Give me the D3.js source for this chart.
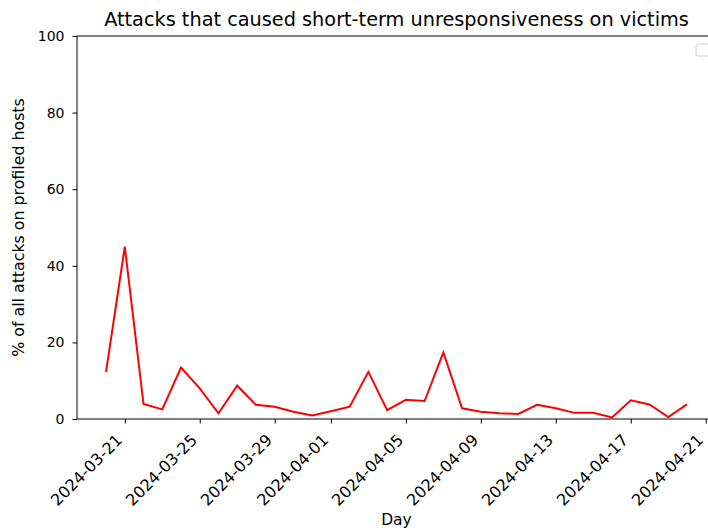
<!DOCTYPE html>
<html>
<head>
<meta charset="utf-8">
<script src="https://d3js.org/d3.v7.min.js"></script>
<style>
body { margin: 0; background: #fff; }
svg { display: block; font-family: "DejaVu Sans", sans-serif; }
.axis path, .axis line { stroke: #000; stroke-width: 1; }
.axis text { font-family: "DejaVu Sans", sans-serif; font-size: 14px; fill: #000; }
.x-axis text { font-size: 16px; }
</style>
</head>
<body>
<svg id="chart" width="708" height="531"></svg>
<script>
// daily share of attacks (%), 2024-03-20 .. 2024-04-20
var startDay = "2024-03-20";
var pctValues = [12.3, 45.0, 3.9, 2.5, 13.4, 8.0, 1.5, 8.7, 3.7, 3.2, 1.9, 0.9,
  2.0, 3.2, 12.3, 2.3, 5.0, 4.7, 17.4, 2.8, 1.9, 1.5, 1.3, 3.7,
  2.8, 1.6, 1.6, 0.4, 4.9, 3.8, 0.5, 3.8];
var tickDays = ["2024-03-21", "2024-03-25", "2024-03-29", "2024-04-01", "2024-04-05",
  "2024-04-09", "2024-04-13", "2024-04-17", "2024-04-21"];
var yTicks = [0, 20, 40, 60, 80, 100];

var parseDay = d3.utcParse("%Y-%m-%d"),
    fmtDay = d3.utcFormat("%Y-%m-%d");

var t0 = parseDay(startDay);
var data = pctValues.map((v, i) => ({ date: d3.utcDay.offset(t0, i), value: v }));

var svg = d3.select("#chart"),
    margin = {top: 36, left: 77, bottom: 419},
    plotRight = 716;

// matplotlib-style 5% padding on the date range
var ext = d3.extent(data, d => d.date);
var pad = (ext[1] - ext[0]) * 0.05;
var x = d3.scaleUtc()
    .domain([new Date(+ext[0] - pad), new Date(+ext[1] + pad)])
    .range([margin.left, plotRight]);

var y = d3.scaleLinear()
    .domain([0, 100])
    .range([margin.bottom, margin.top]);

var line = d3.line()
    .x(d => x(d.date))
    .y(d => y(d.value));

svg.append("path")
    .datum(data)
    .attr("fill", "none")
    .attr("stroke", "#ff0000")
    .attr("stroke-width", 2)
    .attr("d", line);

// frame
svg.append("rect")
    .attr("x", margin.left)
    .attr("y", margin.top)
    .attr("width", plotRight - margin.left)
    .attr("height", margin.bottom - margin.top)
    .attr("fill", "none")
    .attr("stroke", "#000")
    .attr("stroke-width", 1);

svg.append("g")
    .attr("class", "axis x-axis")
    .attr("transform", "translate(0," + margin.bottom + ")")
    .call(d3.axisBottom(x).tickValues(tickDays.map(parseDay)).tickFormat(fmtDay)
      .tickSize(4.5).tickSizeOuter(0))
    .call(g => g.select(".domain").remove())
    .selectAll("text")
      .attr("text-anchor", "end")
      .attr("dx", null).attr("dy", null)
      .attr("x", 0).attr("y", 0)
      .attr("transform", "translate(-2,22) rotate(-45)");

svg.append("g")
    .attr("class", "axis")
    .attr("transform", "translate(" + margin.left + ",0)")
    .call(d3.axisLeft(y).tickValues(yTicks).tickSize(4.5).tickPadding(8).tickSizeOuter(0))
    .call(g => g.select(".domain").remove());

svg.append("text")
    .attr("x", (margin.left + plotRight) / 2)
    .attr("y", 26)
    .attr("text-anchor", "middle")
    .attr("font-size", 19.3)
    .text("Attacks that caused short-term unresponsiveness on victims");

svg.append("text")
    .attr("x", (margin.left + plotRight) / 2)
    .attr("y", 525)
    .attr("text-anchor", "middle")
    .attr("font-size", 15.5)
    .text("Day");

svg.append("text")
    .attr("transform", "translate(24," + ((margin.top + margin.bottom) / 2) + ") rotate(-90)")
    .attr("text-anchor", "middle")
    .attr("font-size", 15.8)
    .text("% of all attacks on profiled hosts");

// empty legend box
svg.append("rect")
    .attr("x", 696).attr("y", 44)
    .attr("width", 20).attr("height", 12)
    .attr("rx", 2)
    .attr("fill", "#fff")
    .attr("stroke", "#d0d0d0");
</script>
</body>
</html>
